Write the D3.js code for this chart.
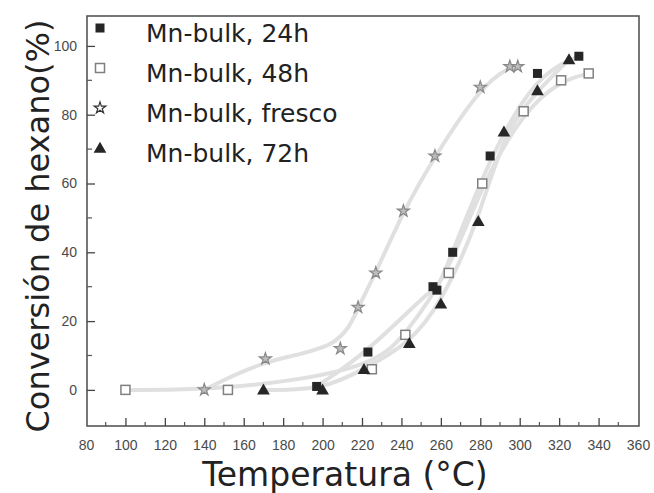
<!DOCTYPE html>
<html>
<head>
<meta charset="utf-8">
<script src="https://cdn.jsdelivr.net/npm/d3@7/dist/d3.min.js"></script>
<style>
  html, body { margin: 0; padding: 0; background: #fff; }
  svg { display: block; }
</style>
</head>
<body>
<svg id="chart" width="654" height="493"></svg>
<script>
// Hexane conversion vs temperature for Mn-bulk catalysts
const seriesNames = ["Mn-bulk, 24h", "Mn-bulk, 48h", "Mn-bulk, fresco", "Mn-bulk, 72h"];

const temp24h = [197, 223, 256, 258, 266, 285, 309, 330];
const conv24h = [1, 11, 30, 29, 40, 68, 92, 97];

const temp48h = [100, 152, 225, 242, 264, 281, 302, 321, 335];
const conv48h = [0, 0, 6, 16, 34, 60, 81, 90, 92];

const tempFresco = [140, 171, 209, 218, 227, 241, 257, 280, 295, 299];
const convFresco = [0, 9, 12, 24, 34, 52, 68, 88, 94, 94];

const temp72h = [170, 200, 221, 244, 260, 279, 292, 309, 325];
const conv72h = [0, 0, 6, 13.5, 25, 49, 75, 87, 96];

const xTicks = [80, 100, 120, 140, 160, 180, 200, 220, 240, 260, 280, 300, 320, 340, 360];
const yTicks = [0, 20, 40, 60, 80, 100];

const svg = d3.select("#chart");
const frameL = 87, frameR = 639, frameT = 16, frameB = 426;

const x = d3.scaleLinear().domain([80, 360]).range([86, 638]);
const y = d3.scaleLinear().domain([-10.5, 108.7]).range([frameB, frameT]);

const zip = (t, c) => t.map((v, i) => ({ t: v, c: c[i] }));
const series = [
  { name: seriesNames[0], data: zip(temp24h, conv24h), kind: "fsquare" },
  { name: seriesNames[1], data: zip(temp48h, conv48h), kind: "osquare" },
  { name: seriesNames[2], data: zip(tempFresco, convFresco), kind: "star" },
  { name: seriesNames[3], data: zip(temp72h, conv72h), kind: "triangle" }
];

// smooth trend curves behind the markers
const line = d3.line().x(d => x(d.t)).y(d => y(d.c)).curve(d3.curveBasis);
const curveOrder = [2, 1, 3, 0];
curveOrder.forEach(i => {
  svg.append("path")
    .attr("d", line(series[i].data))
    .attr("fill", "none")
    .attr("stroke", "#e0e0e0")
    .attr("stroke-width", 4)
    .attr("stroke-linecap", "round");
});

// frame
svg.append("rect")
  .attr("x", frameL).attr("y", frameT)
  .attr("width", frameR - frameL).attr("height", frameB - frameT)
  .attr("fill", "none").attr("stroke", "#555").attr("stroke-width", 1.6);

// x axis ticks (inward) with minor ticks
const xAxis = d3.axisBottom(x).tickValues(xTicks).tickSize(-8).tickPadding(14).tickFormat(d3.format("d"));
const gx = svg.append("g").attr("transform", `translate(0,${frameB})`).call(xAxis);
gx.select(".domain").remove();
gx.selectAll(".tick line").attr("stroke", "#444").attr("stroke-width", 1.3);
gx.selectAll(".tick").filter(d => d === 80 || d === 360).select("line").remove();
gx.selectAll("text").attr("font-family", "Liberation Sans, Arial, sans-serif")
  .attr("font-size", 14).attr("fill", "#4a4a4a");

const xMinor = d3.range(90, 360, 20);
svg.append("g").selectAll("line").data(xMinor).join("line")
  .attr("x1", d => x(d)).attr("x2", d => x(d))
  .attr("y1", frameB).attr("y2", frameB - 4)
  .attr("stroke", "#555").attr("stroke-width", 1.2);

// y axis ticks (inward) with minor ticks
const yAxis = d3.axisLeft(y).tickValues(yTicks).tickSize(-8).tickPadding(10).tickFormat(d3.format("d"));
const gy = svg.append("g").attr("transform", `translate(${frameL},0)`).call(yAxis);
gy.select(".domain").remove();
gy.selectAll(".tick line").attr("stroke", "#444").attr("stroke-width", 1.3);
gy.selectAll("text").attr("font-family", "Liberation Sans, Arial, sans-serif")
  .attr("font-size", 14).attr("fill", "#4a4a4a");

const yMinor = d3.range(10, 100, 20);
svg.append("g").selectAll("line").data(yMinor).join("line")
  .attr("x1", frameL).attr("x2", frameL + 5)
  .attr("y1", d => y(d)).attr("y2", d => y(d))
  .attr("stroke", "#555").attr("stroke-width", 1.2);

// marker drawing
function drawMarker(g, kind, cx, cy, legend) {
  if (kind === "fsquare") {
    g.append("rect").attr("x", cx - 4.5).attr("y", cy - 4.5).attr("width", 9).attr("height", 9)
      .attr("fill", "#262626");
  } else if (kind === "osquare") {
    g.append("rect").attr("x", cx - 4.5).attr("y", cy - 4.5).attr("width", 9).attr("height", 9)
      .attr("fill", "#fff").attr("stroke", "#808080").attr("stroke-width", 1.5);
  } else if (kind === "triangle") {
    g.append("path").attr("d", d3.symbol(d3.symbolTriangle, 70)())
      .attr("transform", `translate(${cx},${cy + 1})`).attr("fill", "#262626");
  } else {
    g.append("path").attr("d", d3.symbol(d3.symbolStar, legend ? 42 : 45)())
      .attr("transform", `translate(${cx},${cy})`)
      .attr("fill", legend ? "#fff" : "#bdbdbd")
      .attr("stroke", legend ? "#333" : "#888").attr("stroke-width", 1.2);
  }
}

const markerOrder = [2, 1, 3, 0];
markerOrder.forEach(i => {
  const s = series[i];
  const g = svg.append("g");
  s.data.forEach(d => drawMarker(g, s.kind, x(d.t), y(d.c), false));
});

// legend
const legend = svg.append("g");
series.forEach((s, i) => {
  const base = 42 + i * 40;
  drawMarker(legend, s.kind, 100, base - 14, true);
  legend.append("text")
    .attr("x", 146).attr("y", base)
    .attr("font-family", "DejaVu Sans, sans-serif")
    .attr("font-size", 25)
    .attr("fill", "#222")
    .text(s.name);
});

// axis titles
svg.append("text")
  .attr("x", 345).attr("y", 486)
  .attr("text-anchor", "middle")
  .attr("font-family", "DejaVu Sans, sans-serif")
  .attr("font-size", 33)
  .attr("fill", "#222")
  .text("Temperatura (°C)");

svg.append("text")
  .attr("transform", "translate(49,226) rotate(-90)")
  .attr("text-anchor", "middle")
  .attr("font-family", "DejaVu Sans, sans-serif")
  .attr("font-size", 32)
  .attr("fill", "#222")
  .text("Conversión de hexano(%)");
</script>
</body>
</html>
